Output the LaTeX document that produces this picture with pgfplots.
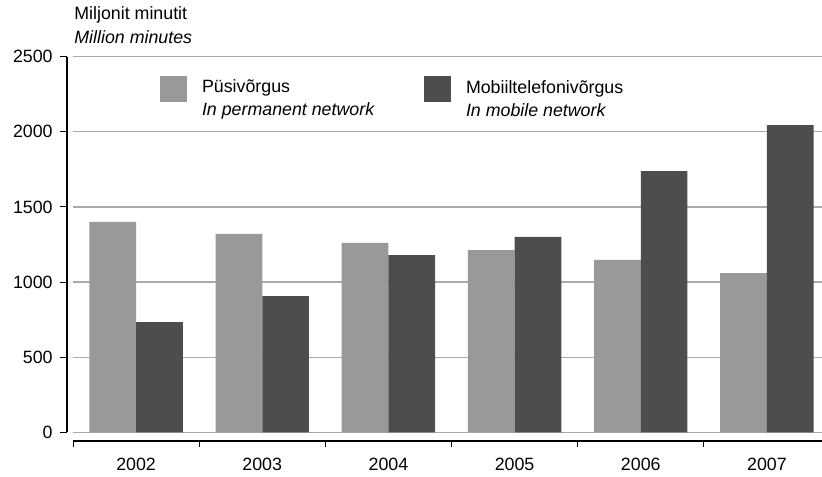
\documentclass[border=0pt]{standalone}
\usepackage{fontspec}
\setmainfont{Liberation Sans}
\usepackage{pgfplots}
\pgfplotsset{compat=1.18}
\usetikzlibrary{calc}
\definecolor{lightbar}{HTML}{999999}
\definecolor{darkbar}{HTML}{4D4D4D}
\definecolor{gridgray}{HTML}{AAAAAA}
\begin{document}
\begin{tikzpicture}[font=\fontsize{8.9pt}{11.7pt}\selectfont]
\useasboundingbox (0,0) rectangle (411pt,238pt);
\node[anchor=base west, inner sep=0pt] at (37pt,228pt) {Miljonit minutit};
\node[anchor=base west, inner sep=0pt] at (37pt,216pt) {\itshape Million minutes};
\begin{axis}[
  name=ax,
  at={(36.5pt,21.85pt)}, anchor=south west,
  scale only axis,
  width=378.5pt, height=187.8pt,
  xmin=-0.5, xmax=5.5,
  ymin=0, ymax=2500,
  ytick={0,500,1000,1500,2000,2500},
  xtick={0,1,2,3,4,5},
  xticklabels={2002,2003,2004,2005,2006,2007},
  major tick length=0pt,
  axis line style={draw=none},
  ymajorgrids,
  grid style={color=gridgray, line width=0.6pt},
  /pgf/number format/assume math mode=true,
  /pgf/number format/1000 sep={},
  xticklabel style={anchor=north, inner sep=0pt, yshift=-12.85pt},
  yticklabel style={anchor=east, inner sep=0pt, xshift=-10pt},
  ybar=0pt, bar width=0.37,
  legend columns=2,
  legend cell align=left,
  legend style={draw=none, fill=none, inner sep=0pt,
    at={(axis description cs:0.1149,0.951)}, anchor=north west,
    nodes={inner sep=0pt},
    /tikz/every odd column/.append style={column sep=7.5pt},
    /tikz/every even column/.append style={column sep=0pt}},
  legend image code/.code={\fill[#1] (0pt,-4.37pt) rectangle (13.33pt,8.97pt);},
]
\addplot[fill=lightbar, draw=none, bar shift=-0.185] coordinates {
  (0,1400) (1,1320) (2,1260) (3,1213) (4,1147) (5,1060)};
\addlegendentry{\parbox[c]{111.15pt}{\baselineskip=11.7pt P\"usiv\~orgus\\\textit{In permanent network}}}
\addplot[fill=darkbar, draw=none, bar shift=0.185] coordinates {
  (0,734) (1,907) (2,1180) (3,1300) (4,1739) (5,2045)};
\addlegendentry{\parbox[c]{100pt}{\baselineskip=11.7pt Mobiiltelefoniv\~orgus\\\textit{In mobile network}}}
\end{axis}
% y axis line with outward ticks
\draw[line width=1pt] ($(ax.south west)+(-3pt,0)$) -- ($(ax.north west)+(-3pt,0)$);
\foreach \k in {0,...,5}{
  \draw[line width=0.5pt] ($(ax.south west)!\k/5!(ax.north west)+(-3pt,0)$) -- ++(-3.5pt,0);
}
% x axis line with category boundary ticks
\draw[line width=1pt] ($(ax.south west)+(0,-4.35pt)$) -- ($(ax.south east)+(0,-4.35pt)$);
\foreach \k in {0,...,5}{
  \draw[line width=0.5pt] ($(ax.south west)!\k/6!(ax.south east)+(0,-4.35pt)$) -- ++(0,-3pt);
}
\end{tikzpicture}
\end{document}
